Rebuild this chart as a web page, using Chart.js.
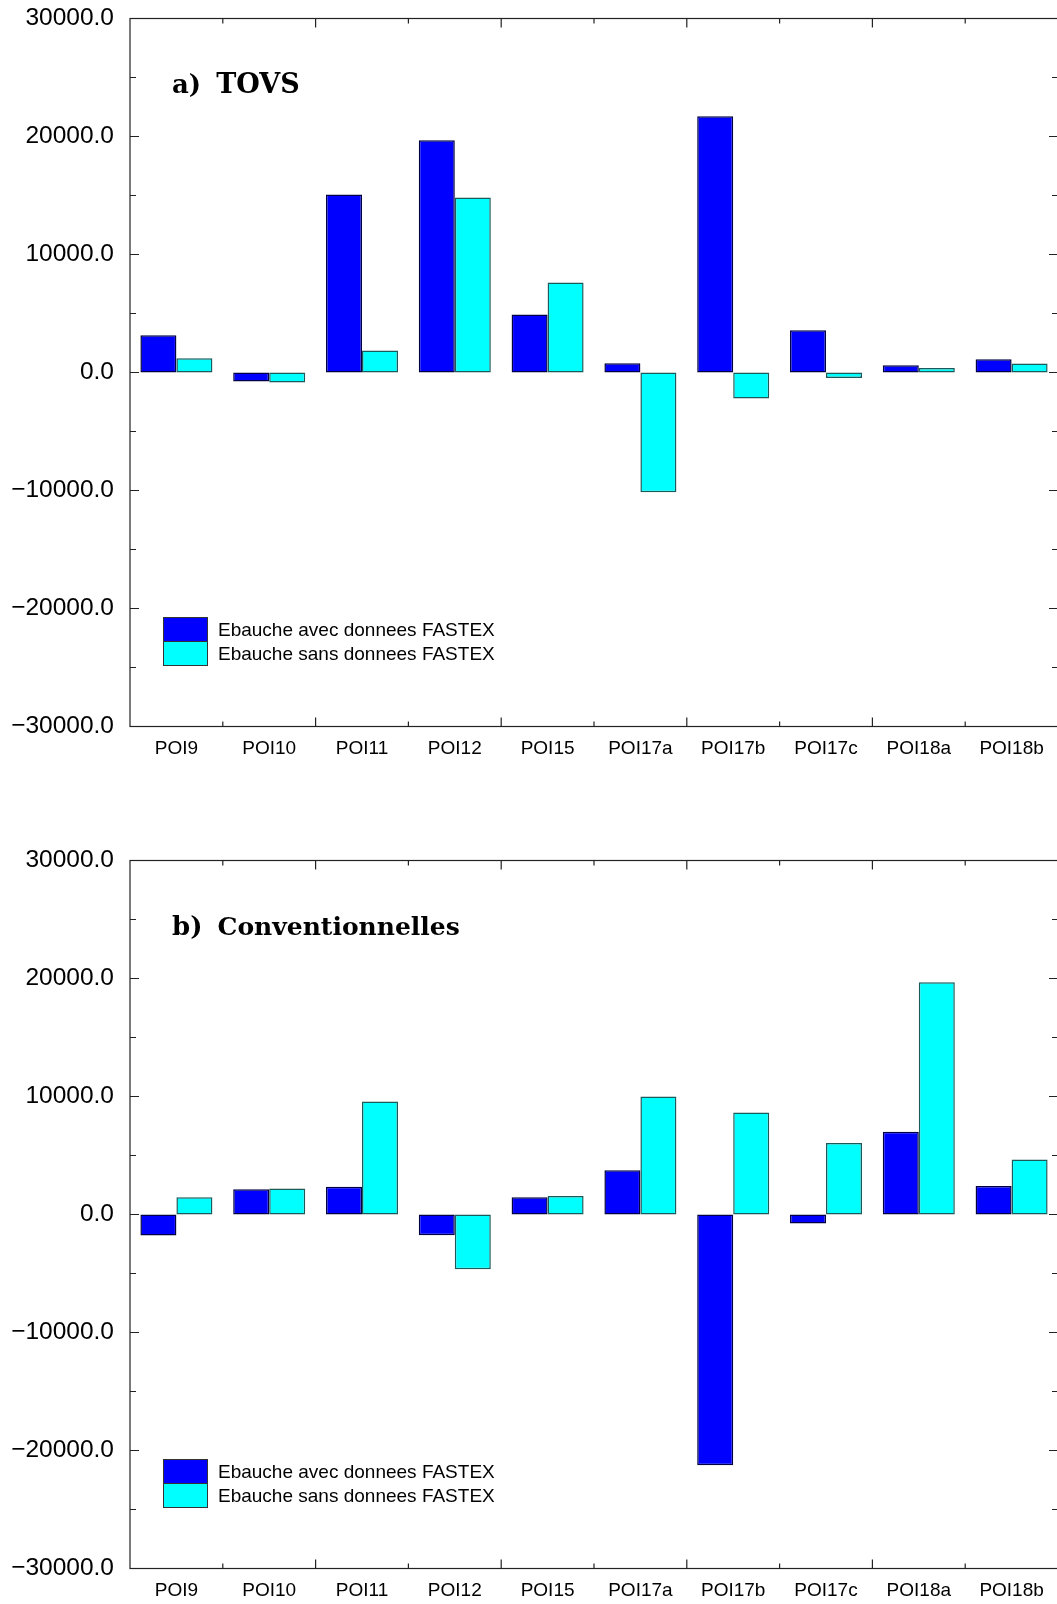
<!DOCTYPE html>
<html>
<head>
<meta charset="utf-8">
<script src="https://cdn.jsdelivr.net/npm/chart.js@4.4.1/dist/chart.umd.min.js"></script>
<style>
    html, body { margin: 0; padding: 0; background: #fff; overflow: hidden; width: 1057px; height: 1604px; }
    .wrap { position: absolute; left: 0; width: 1060px; }
</style>
</head>
<body>
<div class="wrap" style="top:0"><canvas id="chartTovs" width="1060" height="800"></canvas></div>
<div class="wrap" style="top:842px"><canvas id="chartConv" width="1060" height="762"></canvas></div>
<script>
const categories = ['POI9', 'POI10', 'POI11', 'POI12', 'POI15', 'POI17a', 'POI17b', 'POI17c', 'POI18a', 'POI18b'];
const seriesNames = ['Ebauche avec donnees FASTEX', 'Ebauche sans donnees FASTEX'];

// a) TOVS
const tovsAvec = [3150, -760, 15090, 19690, 4920, 780, 21720, 3590, 620, 1130];
const tovsSans = [1210, -850, 1860, 14830, 7630, -10150, -2200, -460, 390, 760];

// b) Conventionnelles
const convAvec = [-1780, 2150, 2350, -1750, 1470, 3760, -21240, -760, 7010, 2410];
const convSans = [1470, 2200, 9580, -4630, 1560, 10000, 8640, 6050, 19690, 4660];

const yTicks = [-30000, -20000, -10000, 0, 10000, 20000, 30000];

const SANS = "'Liberation Sans', Arial, sans-serif";

// frame around the plot with inward ticks on all four sides
const framePlugin = {
    id: 'frame',
    afterDatasetsDraw(chart) {
        const { ctx, chartArea: a, scales: { x, y } } = chart;
        ctx.save();
        ctx.strokeStyle = '#222';
        ctx.lineWidth = 1.2;
        ctx.strokeRect(a.left, a.top, a.right - a.left, a.bottom - a.top);
        ctx.beginPath();
        for (let v = y.min; v <= y.max; v += 5000) {
            const py = y.getPixelForValue(v);
            const len = v % 10000 === 0 ? 9 : 6;
            ctx.moveTo(a.left, py); ctx.lineTo(a.left + len, py);
            ctx.moveTo(a.right, py); ctx.lineTo(a.right - len, py);
        }
        const n = x.ticks.length;
        for (let i = 1; i < n; i++) {
            const px = (x.getPixelForValue(i - 1) + x.getPixelForValue(i)) / 2;
            const len = i % 2 === 0 ? 9 : 5;
            ctx.moveTo(px, a.bottom); ctx.lineTo(px, a.bottom - len);
            ctx.moveTo(px, a.top); ctx.lineTo(px, a.top + len);
        }
        ctx.stroke();
        ctx.restore();
    }
};

// panel title and stacked legend swatches inside the plot
const overlayPlugin = {
    id: 'overlay',
    afterDraw(chart, args, opts) {
        const { ctx, chartArea: a } = chart;
        ctx.save();
        ctx.fillStyle = '#000';
        ctx.textBaseline = 'alphabetic';
        ctx.font = "bold 26px 'DejaVu Serif', serif";
        const tx = a.left + 42, ty = a.top + 74.5;
        ctx.fillText(opts.tag, tx, ty);
        const gap = ctx.measureText(opts.tag).width + 15;
        ctx.font = 'bold ' + opts.size + "px 'DejaVu Serif', serif";
        ctx.fillText(opts.title, tx + gap, ty);

        const bx = a.left + 33.5, by = a.top + 599, bw = 44, bh = 24;
        chart.data.datasets.forEach((ds, i) => {
            ctx.fillStyle = ds.backgroundColor;
            ctx.fillRect(bx, by + i * bh, bw, bh);
            ctx.strokeStyle = '#333';
            ctx.lineWidth = 1;
            ctx.strokeRect(bx, by + i * bh, bw, bh);
            ctx.fillStyle = '#000';
            ctx.font = '19px ' + SANS;
            ctx.textBaseline = 'middle';
            ctx.fillText(ds.label, a.left + 88, by + i * bh + bh / 2 + 1);
        });
        ctx.restore();
    }
};

function makeChart(id, tag, title, size, avec, sans, xAxisHeight) {
    return new Chart(document.getElementById(id), {
        type: 'bar',
        data: {
            labels: categories,
            datasets: [{
                label: seriesNames[0],
                data: avec,
                backgroundColor: '#0000ff',
                borderColor: '#000044',
                borderWidth: 1.5,
                borderSkipped: false
            }, {
                label: seriesNames[1],
                data: sans,
                backgroundColor: '#00ffff',
                borderColor: '#1a5a5a',
                borderWidth: 1.5,
                borderSkipped: false
            }]
        },
        options: {
            responsive: false,
            animation: false,
            layout: { padding: { top: 18.5, right: 2, left: 0, bottom: 0 } },
            categoryPercentage: 0.776,
            barPercentage: 1,
            plugins: {
                legend: { display: false },
                tooltip: { enabled: false },
                overlay: { tag: tag, title: title, size: size }
            },
            scales: {
                x: {
                    grid: { display: false, drawTicks: false },
                    border: { display: false },
                    ticks: {
                        color: '#000',
                        font: { family: SANS, size: 19 },
                        padding: 11,
                        maxRotation: 0,
                        autoSkip: false
                    },
                    afterFit(scale) {
                        scale.height = xAxisHeight;
                        scale.paddingLeft = 0;
                        scale.paddingRight = 0;
                    }
                },
                y: {
                    min: -30000,
                    max: 30000,
                    grid: { display: false, drawTicks: false },
                    border: { display: false },
                    afterBuildTicks(scale) { scale.ticks = yTicks.map(v => ({ value: v })); },
                    ticks: {
                        color: '#000',
                        font: { family: SANS, size: 24.5 },
                        padding: 16,
                        callback: v => (v < 0 ? '\u2212' : '') + Math.abs(v).toFixed(1)
                    },
                    afterFit(scale) {
                        scale.width = 130;
                        scale.paddingTop = 0;
                        scale.paddingBottom = 0;
                    }
                }
            }
        },
        plugins: [framePlugin, overlayPlugin]
    });
}

makeChart('chartTovs', 'a)', 'TOVS', 27, tovsAvec, tovsSans, 73.5);
makeChart('chartConv', 'b)', 'Conventionnelles', 25, convAvec, convSans, 35.5);
</script>
</body>
</html>
